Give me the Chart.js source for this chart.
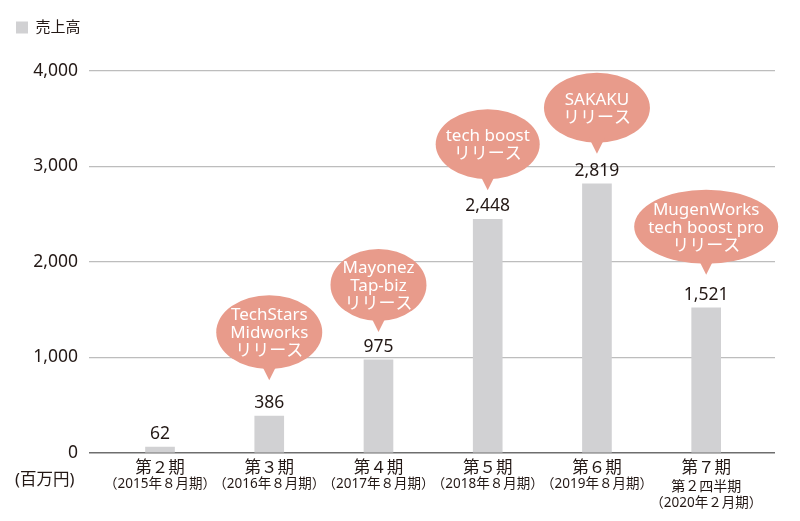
<!DOCTYPE html>
<html lang="ja">
<head>
<meta charset="utf-8">
<script src="https://cdn.jsdelivr.net/npm/chart.js@4.4.1/dist/chart.umd.min.js"></script>
<style>
  html, body { margin: 0; padding: 0; background: #fff; }
  #wrap { width: 800px; height: 521px; }
</style>
</head>
<body>
<div id="wrap"><canvas id="salesChart"></canvas></div>
<script>
// 売上高の推移（百万円）
const periods = ['第２期', '第３期', '第４期', '第５期', '第６期', '第７期'];
const periodNotes = [
    ['（2015年８月期）'],
    ['（2016年８月期）'],
    ['（2017年８月期）'],
    ['（2018年８月期）'],
    ['（2019年８月期）'],
    ['第２四半期', '（2020年２月期）'],
];
const sales = [62, 386, 975, 2448, 2819, 1521];
const yTicks = [0, 1000, 2000, 3000, 4000];
const releases = [
    null,
    ['TechStars', 'Midworks', 'リリース'],
    ['Mayonez', 'Tap-biz', 'リリース'],
    ['tech boost', 'リリース'],
    ['SAKAKU', 'リリース'],
    ['MugenWorks', 'tech boost pro', 'リリース'],
];

const FONT = "'Noto Sans', 'Noto Sans CJK JP', sans-serif";
const TEXT = '#231815';
const BUBBLE = '#e89b8b';
// 吹き出しの大きさ（横半径, 縦半径, 棒の上端からの距離）
const bubbleStyle = [
    null,
    { rx: 53, ry: 37, gap: 36 },
    { rx: 48, ry: 36, gap: 28 },
    { rx: 52, ry: 35, gap: 29 },
    { rx: 53, ry: 35, gap: 30 },
    { rx: 72, ry: 37, gap: 33 },
];

/**
 * 数値ラベル・吹き出し・期のラベルを描く
 */
const annotate = {
    id: 'annotate',
    afterDatasetsDraw(chart) {
        const { ctx, chartArea } = chart;
        const bars = chart.getDatasetMeta(0).data;
        ctx.save();
        ctx.textAlign = 'center';
        ctx.textBaseline = 'middle';

        bars.forEach((bar, i) => {
            ctx.fillStyle = TEXT;
            ctx.font = `17.5px ${FONT}`;
            ctx.fillText(sales[i].toLocaleString('en-US'), bar.x, bar.y - 13);

            const lines = releases[i];
            if (!lines) return;
            const s = bubbleStyle[i];
            const tipY = bar.y - s.gap;
            const cy = tipY - 11 - s.ry;

            ctx.fillStyle = BUBBLE;
            ctx.beginPath();
            ctx.ellipse(bar.x, cy, s.rx, s.ry, 0, 0, Math.PI * 2);
            ctx.fill();
            ctx.beginPath();
            ctx.moveTo(bar.x - 8, cy + s.ry - 5);
            ctx.lineTo(bar.x, tipY);
            ctx.lineTo(bar.x + 8, cy + s.ry - 5);
            ctx.closePath();
            ctx.fill();

            ctx.fillStyle = '#fff';
            ctx.font = `17px ${FONT}`;
            lines.forEach((t, k) => {
                ctx.fillText(t, bar.x, cy + 1 + (k - (lines.length - 1) / 2) * 18);
            });
        });

        // 期のラベル
        const xs = chart.scales.x;
        const base = chartArea.bottom;
        periods.forEach((p, i) => {
            const x = xs.getPixelForValue(i);
            ctx.fillStyle = TEXT;
            ctx.font = `16.5px ${FONT}`;
            ctx.fillText(p, x, base + 15);
            const notes = periodNotes[i];
            notes.forEach((n, k) => {
                ctx.font = (notes.length > 1 && k === 0) ? `14px ${FONT}` : `13.5px ${FONT}`;
                ctx.fillText(n, x, base + (notes.length > 1 ? 34 : 31) + k * 16);
            });
        });

        ctx.textAlign = 'left';
        ctx.font = `16.5px ${FONT}`;
        ctx.fillText('(百万円)', 15, base + 27);
        ctx.restore();
    },
};

const salesChart = new Chart(document.getElementById('salesChart'), {
    type: 'bar',
    data: {
        datasets: [{
            label: '売上高',
            data: sales.map((v, i) => ({ x: i, y: v })),
            backgroundColor: '#d1d1d3',
            borderWidth: 0,
            barThickness: 29,
        }],
    },
    options: {
        responsive: true,
        maintainAspectRatio: false,
        animation: false,
        layout: {
            padding: { top: 4, left: 0, right: 25, bottom: 0 },
        },
        scales: {
            x: {
                type: 'linear',
                offset: false,
                min: -0.65,
                max: 5.63,
                grid: { display: false },
                border: { display: false },
                ticks: { display: false },
                afterBuildTicks: (scale) => {
                    scale.ticks = periods.map((_, i) => ({ value: i }));
                },
                afterFit: (scale) => { scale.height = 68; },
            },
            y: {
                min: 0,
                max: 4000,
                afterBuildTicks: (scale) => {
                    scale.ticks = yTicks.map(v => ({ value: v }));
                },
                afterFit: (scale) => { scale.width = 89; },
                border: { display: false },
                grid: {
                    drawTicks: false,
                    color: (c) => c.tick && c.tick.value === 0 ? '#6e6e6e' : '#bdbdbd',
                    lineWidth: (c) => c.tick && c.tick.value === 0 ? 1.6 : 1.3,
                },
                ticks: {
                    padding: 11,
                    color: TEXT,
                    font: { family: FONT, size: 17.5 },
                    callback: (v) => v.toLocaleString('en-US'),
                },
            },
        },
        plugins: {
            legend: {
                position: 'top',
                align: 'start',
                labels: {
                    boxWidth: 12,
                    boxHeight: 12,
                    padding: 16,
                    color: TEXT,
                    font: { family: FONT, size: 15 },
                },
            },
            title: {
                display: true,
                text: '',
                weight: 500,
                padding: { top: 0, bottom: 16 },
                font: { size: 10, lineHeight: 1 },
            },
            tooltip: { enabled: false },
        },
    },
    plugins: [annotate],
});
</script>
</body>
</html>
